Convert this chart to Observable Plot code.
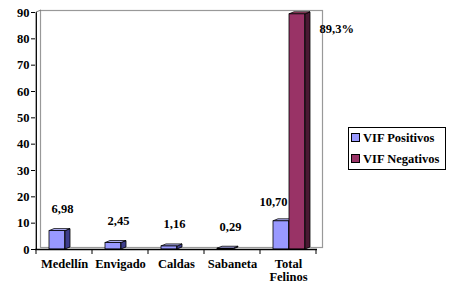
<!DOCTYPE html>
<html><head><meta charset="utf-8">
<script src="https://cdn.jsdelivr.net/npm/d3@7"></script>
<script src="https://cdn.jsdelivr.net/npm/@observablehq/plot@0.6"></script>
<style>
body{margin:0;background:#fff;}
#wrap{position:relative;width:451px;height:291px;}
.legend{position:absolute;left:348px;top:127px;width:98px;height:43px;border:1px solid #000;background:#fff;box-sizing:border-box;font-family:'Liberation Serif';font-weight:bold;font-size:12.5px;}
.legend .item{position:absolute;left:2px;height:14px;line-height:14px;white-space:nowrap;}
.legend .sw{display:inline-block;width:7px;height:7px;border:1px solid #000;margin-right:3px;vertical-align:0px;}
</style></head><body><div id="wrap"></div>
<script>
const categories = ["Medellín", "Envigado", "Caldas", "Sabaneta", "Total Felinos"];
const positivos = [6.98, 2.45, 1.16, 0.29, 10.70];
const negativos = [0, 0, 0, 0, 89.3];
const positivosLabels = ["6,98", "2,45", "1,16", "0,29", "10,70"];
const negativosLabels = ["", "", "", "", "89,3%"];
const series = ["VIF Positivos", "VIF Negativos"];
const yTicks = [0, 10, 20, 30, 40, 50, 60, 70, 80, 90];

const colors = {front: ["#9999FF", "#993366"], side: ["#3E3E8C", "#4A1932"], top: ["#B8B8FF", "#A8476F"]};

const W = 451, H = 291, ML = 35, MR = 134, MT = 12, MB = 42;
const BAND = (W - ML - MR) / categories.length;
const BAR = 16, OFF = [13, 29], DX = 5, DY = 2;
const FONT = "Liberation Serif";
const FS = 12.5;

const rows = categories.flatMap((c, i) => [
  {cat: c, s: 0, v: positivos[i], label: positivosLabels[i]},
  {cat: c, s: 1, v: negativos[i], label: negativosLabels[i]}
]).filter(d => d.v > 0);
const pos = rows.filter(d => d.s === 0);
const neg = rows.filter(d => d.s === 1);

function faces(data, s) {
  return (index, scales) => {
    const x = scales.x, y = scales.y;
    const g = d3.create("svg:g");
    for (const r of data) {
      const x0 = x(r.cat) + OFF[s], x1 = x0 + BAR;
      const yt = y(r.v), yb = y(0);
      g.append("path")
        .attr("d", `M${x1},${yt}L${x1 + DX},${yt - DY}L${x1 + DX},${yb - DY}L${x1},${yb}Z`)
        .attr("fill", colors.side[s]).attr("stroke", "#000").attr("stroke-width", 0.8);
      g.append("path")
        .attr("d", `M${x0},${yt}L${x0 + DX},${yt - DY}L${x1 + DX},${yt - DY}L${x1},${yt}Z`)
        .attr("fill", colors.top[s]).attr("stroke", "#000").attr("stroke-width", 0.8);
    }
    return g.node();
  };
}

function axisDecor() {
  return (index, scales) => {
    const x = scales.x, y = scales.y;
    const g = d3.create("svg:g").attr("stroke", "#000").attr("stroke-width", 1);
    const edges = categories.map(c => x(c)).concat([x(categories[categories.length - 1]) + x.bandwidth()]);
    for (const e of edges) {
      g.append("line").attr("x1", e).attr("x2", e).attr("y1", y(0)).attr("y2", y(0) + 5);
    }
    const x0 = x(categories[0]);
    g.append("line").attr("x1", x0).attr("x2", x0 + DX).attr("y1", y(90)).attr("y2", y(90) - DY).attr("stroke", "#777");
    return g.node();
  };
}

const txt = {fontFamily: FONT, fontWeight: "bold", fontSize: FS, fill: "#000"};

const chart = Plot.plot({
  width: W, height: H,
  marginLeft: ML, marginRight: MR, marginTop: MT, marginBottom: MB,
  style: {fontFamily: FONT, fontWeight: "bold", fontSize: FS + "px", background: "transparent", color: "#000", overflow: "visible"},
  x: {domain: categories, padding: 0},
  y: {domain: [0, 90]},
  marks: [
    Plot.frame({stroke: "#999", strokeWidth: 1.2, dx: DX, dy: -DY}),
    Plot.axisY(yTicks, {tickSize: 4, tickPadding: 2, label: null, ...txt}),
    Plot.ruleX([categories[0]], {y1: 0, y2: 90, stroke: "#000", strokeWidth: 1.3, dx: -BAND / 2}),
    Plot.axisX({tickSize: 0, tickPadding: 10, label: null, tickFormat: d => d.replace(" ", "\n"), ...txt}),
    faces(pos, 0),
    Plot.barY(pos, {x: "cat", y: "v", fill: colors.front[0], stroke: "#000", strokeWidth: 0.8,
      insetLeft: OFF[0], insetRight: BAND - OFF[0] - BAR}),
    faces(neg, 1),
    Plot.barY(neg, {x: "cat", y: "v", fill: colors.front[1], stroke: "#000", strokeWidth: 0.8,
      insetLeft: OFF[1], insetRight: BAND - OFF[1] - BAR}),
    Plot.ruleY([0], {stroke: "#000", strokeWidth: 1.3}),
    axisDecor(),
    Plot.text(pos.slice(0, 4), {x: "cat", y: "v", text: "label", dy: -22, dx: -2, ...txt}),
    Plot.text(pos.slice(4), {x: "cat", y: "v", text: "label", dy: -19, dx: -1, textAnchor: "end", ...txt}),
    Plot.text(neg, {x: "cat", y: "v", text: "label", dy: 15, dx: 31, textAnchor: "start", ...txt})
  ]
});

const wrap = document.getElementById("wrap");
wrap.appendChild(chart);

const legend = document.createElement("div");
legend.className = "legend";
series.forEach((s, i) => {
  const it = document.createElement("div");
  it.className = "item";
  it.style.top = (3 + i * 21) + "px";
  const sw = document.createElement("span");
  sw.className = "sw";
  sw.style.background = colors.front[i];
  it.appendChild(sw);
  it.appendChild(document.createTextNode(s));
  legend.appendChild(it);
});
wrap.appendChild(legend);
</script>
</body></html>
